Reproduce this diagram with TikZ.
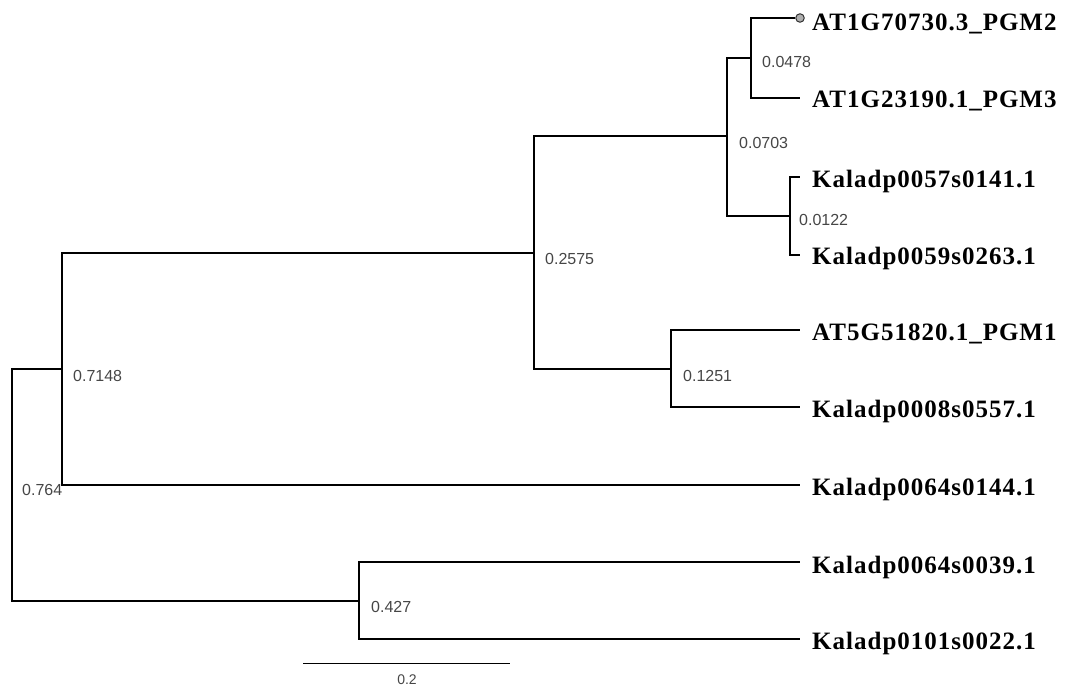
\documentclass[tikz,border=0pt]{standalone}
\usepackage{fontspec}
\setmainfont{Liberation Serif}
\newfontfamily\labfont{Liberation Sans}
\newfontfamily\leaffont[LetterSpace=4]{Liberation Serif}
\definecolor{labgray}{RGB}{70,70,70}
\definecolor{tipgray}{RGB}{175,175,175}
\begin{document}
\begin{tikzpicture}[x=1pt,y=-1pt,
  branch/.style={line width=2pt, line join=miter},
  leaf/.style={anchor=base west, inner sep=0pt, font=\leaffont\bfseries\fontsize{25}{30}\selectfont},
  blab/.style={anchor=base west, inner sep=0pt, text=labgray, font=\labfont\fontsize{16}{19}\selectfont},
  tip/.style={circle, draw=black!80, line width=1pt, fill=tipgray, minimum size=8.5pt, inner sep=0pt}]
\useasboundingbox (0,0) rectangle (1072,685);
% internal nodes
\coordinate (nR) at (12,485);
\coordinate (n7148) at (62,369);
\coordinate (n427) at (359,601);
\coordinate (n2575) at (534,253);
\coordinate (n1251) at (671,369);
\coordinate (n0703) at (727,136);
\coordinate (n0478) at (751,58);
\coordinate (n0122) at (790,216);
% leaves
\node[tip] (tPGM2) at (800,18) {};
\coordinate (tPGM3) at (800,98);
\coordinate (tK0057) at (800,177);
\coordinate (tK0059) at (800,255);
\coordinate (tPGM1) at (800,330);
\coordinate (tK0008) at (800,407);
\coordinate (tK0144) at (800,485);
\coordinate (tK0039) at (800,562);
\coordinate (tK0022) at (800,639);
% branches
\draw[branch] (nR) |- (n7148);
\draw[branch] (nR) |- (n427);
\draw[branch] (n7148) |- (n2575);
\draw[branch] (n7148) |- (tK0144);
\draw[branch] (n2575) |- (n0703);
\draw[branch] (n2575) |- (n1251);
\draw[branch] (n0703) |- (n0478);
\draw[branch] (n0703) |- (n0122);
\draw[branch] (n0478) |- (tPGM2.west);
\draw[branch] (n0478) |- (tPGM3);
\draw[branch] (n0122) |- (tK0057);
\draw[branch] (n0122) |- (tK0059);
\draw[branch] (n1251) |- (tPGM1);
\draw[branch] (n1251) |- (tK0008);
\draw[branch] (n427) |- (tK0039);
\draw[branch] (n427) |- (tK0022);
% leaf labels
\node[leaf] (lPGM2) at (812,31) {AT1G70730.3\_PGM2};
\node[leaf] (lPGM3) at (812,107) {AT1G23190.1\_PGM3};
\node[leaf] (lK0057) at (812,187) {Kaladp0057s0141.1};
\node[leaf] (lK0059) at (812,264) {Kaladp0059s0263.1};
\node[leaf] (lPGM1) at (812,340) {AT5G51820.1\_PGM1};
\node[leaf] (lK0008) at (812,417) {Kaladp0008s0557.1};
\node[leaf] (lK0144) at (812,495) {Kaladp0064s0144.1};
\node[leaf] (lK0039) at (812,573) {Kaladp0064s0039.1};
\node[leaf] (lK0022) at (812,649) {Kaladp0101s0022.1};
% branch labels
\node[blab] (bR) at (22,495) {0.764};
\node[blab] (b7148) at (73,381) {0.7148};
\node[blab] (b427) at (371,612) {0.427};
\node[blab] (b2575) at (545,264) {0.2575};
\node[blab] (b1251) at (683,381) {0.1251};
\node[blab] (b0703) at (739,148) {0.0703};
\node[blab] (b0478) at (762,68) {0.0478};
\node[blab] (b0122) at (799,225) {0.0122};
% scale bar
\coordinate (sL) at (303,663);
\coordinate (sR) at (510,663);
\draw[line width=1pt] (sL) -- (sR);
\node[anchor=base, inner sep=0pt, text=labgray, font=\labfont\fontsize{14}{16}\selectfont] (sLab) at (407,684) {0.2};
\end{tikzpicture}
\end{document}
